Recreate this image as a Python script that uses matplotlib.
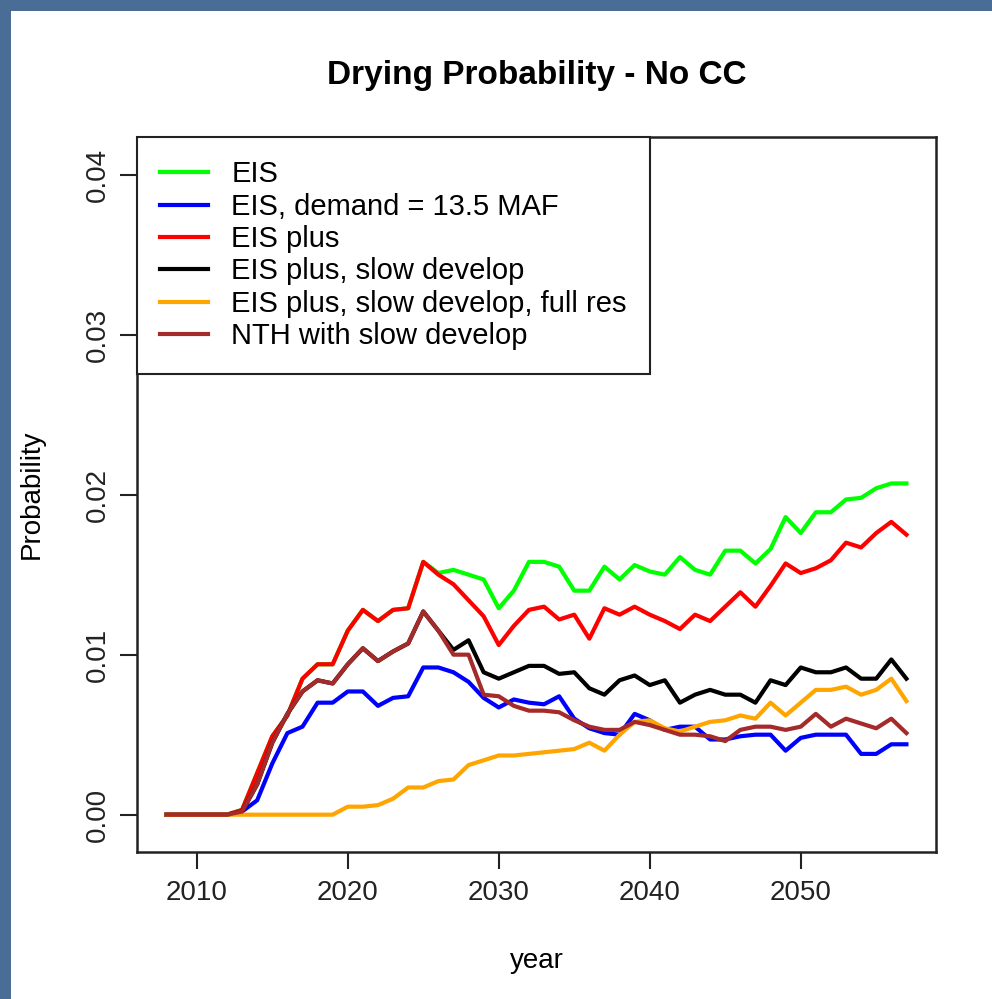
import matplotlib
matplotlib.use("Agg")
import matplotlib.pyplot as plt
from matplotlib.patches import Rectangle
from matplotlib.ticker import FormatStrFormatter
import numpy as np

plt.rcParams['font.family'] = ['Liberation Sans', 'DejaVu Sans']

years = np.arange(2008, 2058)

eis = [0, 0, 0, 0, 0, 0.0003, 0.0026, 0.0049, 0.0062, 0.0085,
       0.0094, 0.0094, 0.0115, 0.0128, 0.0121, 0.0128, 0.0129, 0.0158, 0.0151, 0.0153,
       0.0150, 0.0147, 0.0129, 0.0140, 0.0158, 0.0158, 0.0155, 0.0140, 0.0140, 0.0155,
       0.0147, 0.0156, 0.0152, 0.0150, 0.0161, 0.0153, 0.0150, 0.0165, 0.0165, 0.0157,
       0.0166, 0.0186, 0.0176, 0.0189, 0.0189, 0.0197, 0.0198, 0.0204, 0.0207, 0.0207]

eis_demand = [0, 0, 0, 0, 0, 0.0002, 0.0009, 0.0032, 0.0051, 0.0055,
              0.0070, 0.0070, 0.0077, 0.0077, 0.0068, 0.0073, 0.0074, 0.0092, 0.0092, 0.0089,
              0.0083, 0.0073, 0.0067, 0.0072, 0.0070, 0.0069, 0.0074, 0.0060, 0.0054, 0.0051,
              0.0050, 0.0063, 0.0059, 0.0053, 0.0055, 0.0055, 0.0047, 0.0047, 0.0049, 0.0050,
              0.0050, 0.0040, 0.0048, 0.0050, 0.0050, 0.0050, 0.0038, 0.0038, 0.0044, 0.0044]

eis_plus = [0, 0, 0, 0, 0, 0.0003, 0.0026, 0.0049, 0.0062, 0.0085,
            0.0094, 0.0094, 0.0115, 0.0128, 0.0121, 0.0128, 0.0129, 0.0158, 0.0150, 0.0144,
            0.0134, 0.0124, 0.0106, 0.0118, 0.0128, 0.0130, 0.0122, 0.0125, 0.0110, 0.0129,
            0.0125, 0.0130, 0.0125, 0.0121, 0.0116, 0.0125, 0.0121, 0.0130, 0.0139, 0.0130,
            0.0143, 0.0157, 0.0151, 0.0154, 0.0159, 0.0170, 0.0167, 0.0176, 0.0183, 0.0175]

eis_plus_slow = [0, 0, 0, 0, 0, 0.0002, 0.0019, 0.0045, 0.0063, 0.0077,
                 0.0084, 0.0082, 0.0094, 0.0104, 0.0096, 0.0102, 0.0107, 0.0127, 0.0115, 0.0103,
                 0.0109, 0.0089, 0.0085, 0.0089, 0.0093, 0.0093, 0.0088, 0.0089, 0.0079, 0.0075,
                 0.0084, 0.0087, 0.0081, 0.0084, 0.0070, 0.0075, 0.0078, 0.0075, 0.0075, 0.0070,
                 0.0084, 0.0081, 0.0092, 0.0089, 0.0089, 0.0092, 0.0085, 0.0085, 0.0097, 0.0085]

eis_plus_full = [0, 0, 0, 0, 0, 0, 0, 0, 0, 0,
                 0, 0, 0.0005, 0.0005, 0.0006, 0.0010, 0.0017, 0.0017, 0.0021, 0.0022,
                 0.0031, 0.0034, 0.0037, 0.0037, 0.0038, 0.0039, 0.0040, 0.0041, 0.0045, 0.0040,
                 0.0050, 0.0058, 0.0059, 0.0054, 0.0052, 0.0055, 0.0058, 0.0059, 0.0062, 0.0060,
                 0.0070, 0.0062, 0.0070, 0.0078, 0.0078, 0.0080, 0.0075, 0.0078, 0.0085, 0.0071]

nth_slow = [0, 0, 0, 0, 0, 0.0002, 0.0019, 0.0045, 0.0063, 0.0077,
            0.0084, 0.0082, 0.0094, 0.0104, 0.0096, 0.0102, 0.0107, 0.0127, 0.0115, 0.0100,
            0.0100, 0.0075, 0.0074, 0.0068, 0.0065, 0.0065, 0.0064, 0.0059, 0.0055, 0.0053,
            0.0053, 0.0058, 0.0056, 0.0053, 0.0050, 0.0050, 0.0049, 0.0046, 0.0053, 0.0055,
            0.0055, 0.0053, 0.0055, 0.0063, 0.0055, 0.0060, 0.0057, 0.0054, 0.0060, 0.0051]

series = [
    (eis, 'EIS', '#00ff00'),
    (eis_demand, 'EIS, demand = 13.5 MAF', '#0000ff'),
    (eis_plus, 'EIS plus', '#ff0000'),
    (eis_plus_slow, 'EIS plus, slow develop', 'black'),
    (eis_plus_full, 'EIS plus, slow develop, full res', '#ffa500'),
    (nth_slow, 'NTH with slow develop', '#a52a2a'),
]

fig = plt.figure(figsize=(9.92, 9.99), dpi=100)
fig.patch.set_facecolor('#4a6d95')
fig.add_artist(Rectangle((11 / 992, 0), 1, 1 - 11 / 999, transform=fig.transFigure,
                         facecolor='white', edgecolor='none', zorder=-10))

ax = fig.add_axes([137 / 992, 1 - 851.5 / 999, (936 - 137) / 992, (851.5 - 137) / 999])

for vals, name, col in series:
    ax.plot(years, vals, color=col, linewidth=3.0, label=name)

ax.set_xlim(2006.04, 2058.96)
ax.set_ylim(-0.0023, 0.04235)
ax.set_xticks([2010, 2020, 2030, 2040, 2050])
ax.set_yticks([0, 0.01, 0.02, 0.03, 0.04])
ax.yaxis.set_major_formatter(FormatStrFormatter('%.2f'))
ax.tick_params(length=12, width=1.5, labelsize=20, colors='#222222')
ax.tick_params(axis='x', pad=8.5)
ax.tick_params(axis='y', pad=7)
plt.setp(ax.get_yticklabels(), rotation=90, va='center')
for sp in ax.spines.values():
    sp.set_linewidth(1.8)
    sp.set_color('#222222')

ax.set_title('Drying Probability - No CC', fontsize=24, fontweight='bold', pad=38.5)
ax.set_xlabel('year', fontsize=20, labelpad=30.5)
ax.set_ylabel('Probability', fontsize=20, labelpad=29)

leg = ax.legend(loc='upper left', borderaxespad=0, fontsize=21, frameon=True,
                fancybox=False, edgecolor='#222222', framealpha=1,
                handlelength=1.64, handletextpad=0.79, labelspacing=0.15, borderpad=0.8)
leg.get_frame().set_linewidth(1.5)

fig.savefig('out.png', dpi=100, facecolor=fig.get_facecolor())
